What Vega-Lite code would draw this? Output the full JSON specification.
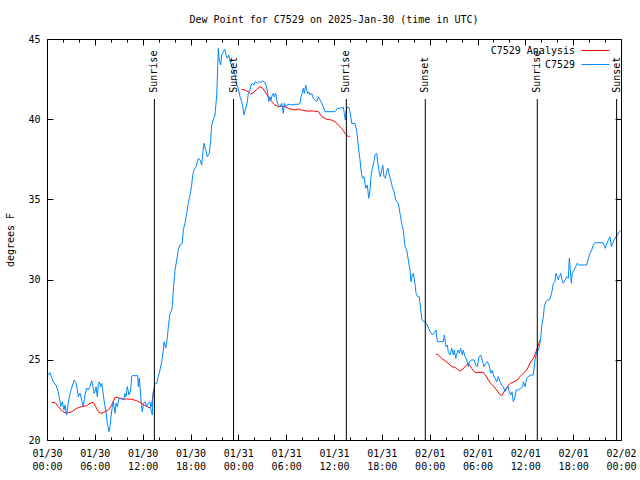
{
  "$schema": "https://vega.github.io/schema/vega-lite/v6.json",
  "width": 574,
  "height": 401,
  "autosize": {"type": "none"},
  "padding": {"left": 47, "top": 39, "right": 19, "bottom": 40},
  "background": "white",
  "title": {"text": "Dew Point for C7529 on 2025-Jan-30 (time in UTC)", "font": "DejaVu Sans Mono", "fontSize": 10, "fontWeight": "normal", "color": "black", "anchor": "middle", "frame": "group", "offset": 9},
  "config": {
    "view": {"stroke": "black", "strokeWidth": 1},
    "font": "DejaVu Sans Mono",
    "axis": {"grid": false, "domain": false, "labelFont": "DejaVu Sans Mono", "labelFontSize": 10, "labelColor": "black", "tickColor": "black", "tickWidth": 1, "titleFont": "DejaVu Sans Mono", "titleFontSize": 10, "titleFontWeight": "normal", "titleColor": "black"}
  },
  "datasets": {
    "dew": [
      {"hour":0.59,"dewpoint":22.35,"series":"C7529 Analysis","seg":"a1"},
      {"hour":1.00,"dewpoint":22.33,"series":"C7529 Analysis","seg":"a1"},
      {"hour":1.42,"dewpoint":22.08,"series":"C7529 Analysis","seg":"a1"},
      {"hour":1.84,"dewpoint":21.83,"series":"C7529 Analysis","seg":"a1"},
      {"hour":2.26,"dewpoint":21.70,"series":"C7529 Analysis","seg":"a1"},
      {"hour":2.67,"dewpoint":21.70,"series":"C7529 Analysis","seg":"a1"},
      {"hour":3.10,"dewpoint":21.76,"series":"C7529 Analysis","seg":"a1"},
      {"hour":3.73,"dewpoint":21.98,"series":"C7529 Analysis","seg":"a1"},
      {"hour":4.35,"dewpoint":22.08,"series":"C7529 Analysis","seg":"a1"},
      {"hour":4.98,"dewpoint":22.14,"series":"C7529 Analysis","seg":"a1"},
      {"hour":5.39,"dewpoint":22.29,"series":"C7529 Analysis","seg":"a1"},
      {"hour":5.81,"dewpoint":22.35,"series":"C7529 Analysis","seg":"a1"},
      {"hour":6.11,"dewpoint":22.08,"series":"C7529 Analysis","seg":"a1"},
      {"hour":6.44,"dewpoint":21.76,"series":"C7529 Analysis","seg":"a1"},
      {"hour":6.77,"dewpoint":21.66,"series":"C7529 Analysis","seg":"a1"},
      {"hour":7.28,"dewpoint":21.76,"series":"C7529 Analysis","seg":"a1"},
      {"hour":7.69,"dewpoint":21.87,"series":"C7529 Analysis","seg":"a1"},
      {"hour":8.12,"dewpoint":22.18,"series":"C7529 Analysis","seg":"a1"},
      {"hour":8.53,"dewpoint":22.66,"series":"C7529 Analysis","seg":"a1"},
      {"hour":8.94,"dewpoint":22.66,"series":"C7529 Analysis","seg":"a1"},
      {"hour":9.37,"dewpoint":22.54,"series":"C7529 Analysis","seg":"a1"},
      {"hour":10.00,"dewpoint":22.56,"series":"C7529 Analysis","seg":"a1"},
      {"hour":10.62,"dewpoint":22.54,"series":"C7529 Analysis","seg":"a1"},
      {"hour":11.25,"dewpoint":22.45,"series":"C7529 Analysis","seg":"a1"},
      {"hour":11.88,"dewpoint":22.29,"series":"C7529 Analysis","seg":"a1"},
      {"hour":12.51,"dewpoint":22.08,"series":"C7529 Analysis","seg":"a1"},
      {"hour":12.92,"dewpoint":22.01,"series":"C7529 Analysis","seg":"a1"},
      {"hour":13.13,"dewpoint":22.18,"series":"C7529 Analysis","seg":"a1"},
      {"hour":13.33,"dewpoint":22.91,"series":"C7529 Analysis","seg":"a1"},
      {"hour":13.46,"dewpoint":23.12,"series":"C7529 Analysis","seg":"a1"},
      {"hour":24.42,"dewpoint":41.86,"series":"C7529 Analysis","seg":"a2"},
      {"hour":24.84,"dewpoint":41.82,"series":"C7529 Analysis","seg":"a2"},
      {"hour":25.25,"dewpoint":41.71,"series":"C7529 Analysis","seg":"a2"},
      {"hour":25.55,"dewpoint":41.57,"series":"C7529 Analysis","seg":"a2"},
      {"hour":25.88,"dewpoint":41.65,"series":"C7529 Analysis","seg":"a2"},
      {"hour":26.30,"dewpoint":41.86,"series":"C7529 Analysis","seg":"a2"},
      {"hour":26.72,"dewpoint":42.03,"series":"C7529 Analysis","seg":"a2"},
      {"hour":27.06,"dewpoint":41.93,"series":"C7529 Analysis","seg":"a2"},
      {"hour":27.35,"dewpoint":41.71,"series":"C7529 Analysis","seg":"a2"},
      {"hour":27.76,"dewpoint":41.40,"series":"C7529 Analysis","seg":"a2"},
      {"hour":28.19,"dewpoint":41.09,"series":"C7529 Analysis","seg":"a2"},
      {"hour":28.60,"dewpoint":40.89,"series":"C7529 Analysis","seg":"a2"},
      {"hour":29.01,"dewpoint":40.78,"series":"C7529 Analysis","seg":"a2"},
      {"hour":29.44,"dewpoint":40.82,"series":"C7529 Analysis","seg":"a2"},
      {"hour":29.85,"dewpoint":40.78,"series":"C7529 Analysis","seg":"a2"},
      {"hour":30.27,"dewpoint":40.68,"series":"C7529 Analysis","seg":"a2"},
      {"hour":30.70,"dewpoint":40.62,"series":"C7529 Analysis","seg":"a2"},
      {"hour":31.11,"dewpoint":40.57,"series":"C7529 Analysis","seg":"a2"},
      {"hour":31.52,"dewpoint":40.64,"series":"C7529 Analysis","seg":"a2"},
      {"hour":31.95,"dewpoint":40.57,"series":"C7529 Analysis","seg":"a2"},
      {"hour":32.58,"dewpoint":40.51,"series":"C7529 Analysis","seg":"a2"},
      {"hour":33.40,"dewpoint":40.51,"series":"C7529 Analysis","seg":"a2"},
      {"hour":34.03,"dewpoint":40.47,"series":"C7529 Analysis","seg":"a2"},
      {"hour":34.46,"dewpoint":40.16,"series":"C7529 Analysis","seg":"a2"},
      {"hour":35.09,"dewpoint":39.99,"series":"C7529 Analysis","seg":"a2"},
      {"hour":35.71,"dewpoint":39.95,"series":"C7529 Analysis","seg":"a2"},
      {"hour":36.13,"dewpoint":39.84,"series":"C7529 Analysis","seg":"a2"},
      {"hour":36.54,"dewpoint":39.64,"series":"C7529 Analysis","seg":"a2"},
      {"hour":36.97,"dewpoint":39.43,"series":"C7529 Analysis","seg":"a2"},
      {"hour":37.38,"dewpoint":39.12,"series":"C7529 Analysis","seg":"a2"},
      {"hour":37.79,"dewpoint":38.91,"series":"C7529 Analysis","seg":"a2"},
      {"hour":38.01,"dewpoint":38.95,"series":"C7529 Analysis","seg":"a2"},
      {"hour":48.76,"dewpoint":25.36,"series":"C7529 Analysis","seg":"a3"},
      {"hour":49.08,"dewpoint":25.30,"series":"C7529 Analysis","seg":"a3"},
      {"hour":49.51,"dewpoint":25.09,"series":"C7529 Analysis","seg":"a3"},
      {"hour":49.92,"dewpoint":24.94,"series":"C7529 Analysis","seg":"a3"},
      {"hour":50.34,"dewpoint":24.78,"series":"C7529 Analysis","seg":"a3"},
      {"hour":50.77,"dewpoint":24.57,"series":"C7529 Analysis","seg":"a3"},
      {"hour":51.18,"dewpoint":24.53,"series":"C7529 Analysis","seg":"a3"},
      {"hour":51.47,"dewpoint":24.41,"series":"C7529 Analysis","seg":"a3"},
      {"hour":51.81,"dewpoint":24.30,"series":"C7529 Analysis","seg":"a3"},
      {"hour":52.15,"dewpoint":24.41,"series":"C7529 Analysis","seg":"a3"},
      {"hour":52.43,"dewpoint":24.57,"series":"C7529 Analysis","seg":"a3"},
      {"hour":52.85,"dewpoint":24.78,"series":"C7529 Analysis","seg":"a3"},
      {"hour":53.27,"dewpoint":24.47,"series":"C7529 Analysis","seg":"a3"},
      {"hour":53.69,"dewpoint":24.20,"series":"C7529 Analysis","seg":"a3"},
      {"hour":54.32,"dewpoint":24.22,"series":"C7529 Analysis","seg":"a3"},
      {"hour":54.73,"dewpoint":24.22,"series":"C7529 Analysis","seg":"a3"},
      {"hour":55.07,"dewpoint":23.99,"series":"C7529 Analysis","seg":"a3"},
      {"hour":55.36,"dewpoint":23.74,"series":"C7529 Analysis","seg":"a3"},
      {"hour":55.66,"dewpoint":23.53,"series":"C7529 Analysis","seg":"a3"},
      {"hour":55.98,"dewpoint":23.37,"series":"C7529 Analysis","seg":"a3"},
      {"hour":56.41,"dewpoint":23.12,"series":"C7529 Analysis","seg":"a3"},
      {"hour":56.74,"dewpoint":22.87,"series":"C7529 Analysis","seg":"a3"},
      {"hour":57.04,"dewpoint":22.76,"series":"C7529 Analysis","seg":"a3"},
      {"hour":57.33,"dewpoint":23.01,"series":"C7529 Analysis","seg":"a3"},
      {"hour":57.74,"dewpoint":23.32,"series":"C7529 Analysis","seg":"a3"},
      {"hour":58.08,"dewpoint":23.53,"series":"C7529 Analysis","seg":"a3"},
      {"hour":58.58,"dewpoint":23.63,"series":"C7529 Analysis","seg":"a3"},
      {"hour":58.99,"dewpoint":23.74,"series":"C7529 Analysis","seg":"a3"},
      {"hour":59.33,"dewpoint":23.95,"series":"C7529 Analysis","seg":"a3"},
      {"hour":59.75,"dewpoint":24.16,"series":"C7529 Analysis","seg":"a3"},
      {"hour":60.17,"dewpoint":24.36,"series":"C7529 Analysis","seg":"a3"},
      {"hour":60.59,"dewpoint":24.78,"series":"C7529 Analysis","seg":"a3"},
      {"hour":61.00,"dewpoint":25.09,"series":"C7529 Analysis","seg":"a3"},
      {"hour":61.34,"dewpoint":25.50,"series":"C7529 Analysis","seg":"a3"},
      {"hour":61.63,"dewpoint":25.92,"series":"C7529 Analysis","seg":"a3"},
      {"hour":61.84,"dewpoint":26.23,"series":"C7529 Analysis","seg":"a3"},
      {"hour":0.16,"dewpoint":24.05,"series":"C7529","seg":"obs"},
      {"hour":0.38,"dewpoint":24.20,"series":"C7529","seg":"obs"},
      {"hour":0.59,"dewpoint":23.87,"series":"C7529","seg":"obs"},
      {"hour":0.88,"dewpoint":23.55,"series":"C7529","seg":"obs"},
      {"hour":1.13,"dewpoint":23.43,"series":"C7529","seg":"obs"},
      {"hour":1.34,"dewpoint":23.12,"series":"C7529","seg":"obs"},
      {"hour":1.54,"dewpoint":22.70,"series":"C7529","seg":"obs"},
      {"hour":1.72,"dewpoint":22.08,"series":"C7529","seg":"obs"},
      {"hour":1.92,"dewpoint":22.39,"series":"C7529","seg":"obs"},
      {"hour":2.13,"dewpoint":21.87,"series":"C7529","seg":"obs"},
      {"hour":2.26,"dewpoint":22.18,"series":"C7529","seg":"obs"},
      {"hour":2.47,"dewpoint":21.56,"series":"C7529","seg":"obs"},
      {"hour":2.67,"dewpoint":22.31,"series":"C7529","seg":"obs"},
      {"hour":2.80,"dewpoint":22.70,"series":"C7529","seg":"obs"},
      {"hour":3.01,"dewpoint":23.12,"series":"C7529","seg":"obs"},
      {"hour":3.22,"dewpoint":23.43,"series":"C7529","seg":"obs"},
      {"hour":3.42,"dewpoint":23.74,"series":"C7529","seg":"obs"},
      {"hour":3.64,"dewpoint":23.55,"series":"C7529","seg":"obs"},
      {"hour":3.80,"dewpoint":23.12,"series":"C7529","seg":"obs"},
      {"hour":3.93,"dewpoint":22.70,"series":"C7529","seg":"obs"},
      {"hour":4.14,"dewpoint":22.93,"series":"C7529","seg":"obs"},
      {"hour":4.35,"dewpoint":22.49,"series":"C7529","seg":"obs"},
      {"hour":4.55,"dewpoint":22.08,"series":"C7529","seg":"obs"},
      {"hour":4.77,"dewpoint":22.81,"series":"C7529","seg":"obs"},
      {"hour":4.98,"dewpoint":23.24,"series":"C7529","seg":"obs"},
      {"hour":5.18,"dewpoint":23.12,"series":"C7529","seg":"obs"},
      {"hour":5.39,"dewpoint":23.32,"series":"C7529","seg":"obs"},
      {"hour":5.61,"dewpoint":23.70,"series":"C7529","seg":"obs"},
      {"hour":5.73,"dewpoint":23.43,"series":"C7529","seg":"obs"},
      {"hour":5.90,"dewpoint":22.91,"series":"C7529","seg":"obs"},
      {"hour":6.02,"dewpoint":23.01,"series":"C7529","seg":"obs"},
      {"hour":6.15,"dewpoint":23.32,"series":"C7529","seg":"obs"},
      {"hour":6.31,"dewpoint":22.70,"series":"C7529","seg":"obs"},
      {"hour":6.44,"dewpoint":23.53,"series":"C7529","seg":"obs"},
      {"hour":6.56,"dewpoint":23.63,"series":"C7529","seg":"obs"},
      {"hour":6.74,"dewpoint":23.32,"series":"C7529","seg":"obs"},
      {"hour":6.86,"dewpoint":23.53,"series":"C7529","seg":"obs"},
      {"hour":6.99,"dewpoint":23.12,"series":"C7529","seg":"obs"},
      {"hour":7.15,"dewpoint":22.49,"series":"C7529","seg":"obs"},
      {"hour":7.28,"dewpoint":22.08,"series":"C7529","seg":"obs"},
      {"hour":7.40,"dewpoint":21.76,"series":"C7529","seg":"obs"},
      {"hour":7.56,"dewpoint":21.04,"series":"C7529","seg":"obs"},
      {"hour":7.78,"dewpoint":20.52,"series":"C7529","seg":"obs"},
      {"hour":7.90,"dewpoint":20.83,"series":"C7529","seg":"obs"},
      {"hour":8.03,"dewpoint":21.45,"series":"C7529","seg":"obs"},
      {"hour":8.19,"dewpoint":22.08,"series":"C7529","seg":"obs"},
      {"hour":8.32,"dewpoint":22.39,"series":"C7529","seg":"obs"},
      {"hour":8.53,"dewpoint":21.66,"series":"C7529","seg":"obs"},
      {"hour":8.66,"dewpoint":22.29,"series":"C7529","seg":"obs"},
      {"hour":8.82,"dewpoint":22.08,"series":"C7529","seg":"obs"},
      {"hour":9.03,"dewpoint":22.60,"series":"C7529","seg":"obs"},
      {"hour":9.37,"dewpoint":22.60,"series":"C7529","seg":"obs"},
      {"hour":9.62,"dewpoint":22.49,"series":"C7529","seg":"obs"},
      {"hour":9.78,"dewpoint":22.91,"series":"C7529","seg":"obs"},
      {"hour":9.91,"dewpoint":22.70,"series":"C7529","seg":"obs"},
      {"hour":10.07,"dewpoint":23.32,"series":"C7529","seg":"obs"},
      {"hour":10.29,"dewpoint":22.81,"series":"C7529","seg":"obs"},
      {"hour":10.50,"dewpoint":23.12,"series":"C7529","seg":"obs"},
      {"hour":10.62,"dewpoint":23.95,"series":"C7529","seg":"obs"},
      {"hour":10.70,"dewpoint":24.01,"series":"C7529","seg":"obs"},
      {"hour":11.38,"dewpoint":24.01,"series":"C7529","seg":"obs"},
      {"hour":11.45,"dewpoint":23.32,"series":"C7529","seg":"obs"},
      {"hour":11.58,"dewpoint":23.85,"series":"C7529","seg":"obs"},
      {"hour":11.79,"dewpoint":22.49,"series":"C7529","seg":"obs"},
      {"hour":11.95,"dewpoint":21.76,"series":"C7529","seg":"obs"},
      {"hour":12.13,"dewpoint":22.29,"series":"C7529","seg":"obs"},
      {"hour":12.29,"dewpoint":22.39,"series":"C7529","seg":"obs"},
      {"hour":12.51,"dewpoint":22.08,"series":"C7529","seg":"obs"},
      {"hour":12.71,"dewpoint":22.29,"series":"C7529","seg":"obs"},
      {"hour":12.92,"dewpoint":22.39,"series":"C7529","seg":"obs"},
      {"hour":13.05,"dewpoint":21.87,"series":"C7529","seg":"obs"},
      {"hour":13.21,"dewpoint":21.56,"series":"C7529","seg":"obs"},
      {"hour":13.30,"dewpoint":22.91,"series":"C7529","seg":"obs"},
      {"hour":13.55,"dewpoint":23.53,"series":"C7529","seg":"obs"},
      {"hour":13.76,"dewpoint":23.53,"series":"C7529","seg":"obs"},
      {"hour":13.96,"dewpoint":23.95,"series":"C7529","seg":"obs"},
      {"hour":14.17,"dewpoint":24.36,"series":"C7529","seg":"obs"},
      {"hour":14.39,"dewpoint":24.88,"series":"C7529","seg":"obs"},
      {"hour":14.59,"dewpoint":25.61,"series":"C7529","seg":"obs"},
      {"hour":14.68,"dewpoint":26.13,"series":"C7529","seg":"obs"},
      {"hour":14.89,"dewpoint":25.72,"series":"C7529","seg":"obs"},
      {"hour":15.09,"dewpoint":26.34,"series":"C7529","seg":"obs"},
      {"hour":15.22,"dewpoint":27.06,"series":"C7529","seg":"obs"},
      {"hour":15.43,"dewpoint":27.90,"series":"C7529","seg":"obs"},
      {"hour":15.64,"dewpoint":28.10,"series":"C7529","seg":"obs"},
      {"hour":15.72,"dewpoint":28.31,"series":"C7529","seg":"obs"},
      {"hour":15.84,"dewpoint":29.35,"series":"C7529","seg":"obs"},
      {"hour":16.06,"dewpoint":30.60,"series":"C7529","seg":"obs"},
      {"hour":16.27,"dewpoint":31.22,"series":"C7529","seg":"obs"},
      {"hour":16.47,"dewpoint":31.85,"series":"C7529","seg":"obs"},
      {"hour":16.68,"dewpoint":32.16,"series":"C7529","seg":"obs"},
      {"hour":16.97,"dewpoint":32.26,"series":"C7529","seg":"obs"},
      {"hour":17.10,"dewpoint":33.09,"series":"C7529","seg":"obs"},
      {"hour":17.31,"dewpoint":33.51,"series":"C7529","seg":"obs"},
      {"hour":17.52,"dewpoint":34.13,"series":"C7529","seg":"obs"},
      {"hour":17.72,"dewpoint":34.76,"series":"C7529","seg":"obs"},
      {"hour":17.94,"dewpoint":35.27,"series":"C7529","seg":"obs"},
      {"hour":18.15,"dewpoint":35.90,"series":"C7529","seg":"obs"},
      {"hour":18.28,"dewpoint":36.52,"series":"C7529","seg":"obs"},
      {"hour":18.44,"dewpoint":36.83,"series":"C7529","seg":"obs"},
      {"hour":18.69,"dewpoint":37.04,"series":"C7529","seg":"obs"},
      {"hour":18.98,"dewpoint":37.56,"series":"C7529","seg":"obs"},
      {"hour":19.19,"dewpoint":37.46,"series":"C7529","seg":"obs"},
      {"hour":19.41,"dewpoint":37.14,"series":"C7529","seg":"obs"},
      {"hour":19.53,"dewpoint":37.87,"series":"C7529","seg":"obs"},
      {"hour":19.69,"dewpoint":38.50,"series":"C7529","seg":"obs"},
      {"hour":19.91,"dewpoint":38.08,"series":"C7529","seg":"obs"},
      {"hour":20.11,"dewpoint":37.66,"series":"C7529","seg":"obs"},
      {"hour":20.36,"dewpoint":37.87,"series":"C7529","seg":"obs"},
      {"hour":20.53,"dewpoint":38.70,"series":"C7529","seg":"obs"},
      {"hour":20.66,"dewpoint":39.64,"series":"C7529","seg":"obs"},
      {"hour":20.86,"dewpoint":39.95,"series":"C7529","seg":"obs"},
      {"hour":21.07,"dewpoint":40.26,"series":"C7529","seg":"obs"},
      {"hour":21.29,"dewpoint":41.51,"series":"C7529","seg":"obs"},
      {"hour":21.41,"dewpoint":43.27,"series":"C7529","seg":"obs"},
      {"hour":21.49,"dewpoint":44.42,"series":"C7529","seg":"obs"},
      {"hour":21.61,"dewpoint":43.69,"series":"C7529","seg":"obs"},
      {"hour":21.79,"dewpoint":43.38,"series":"C7529","seg":"obs"},
      {"hour":21.91,"dewpoint":44.00,"series":"C7529","seg":"obs"},
      {"hour":22.12,"dewpoint":44.21,"series":"C7529","seg":"obs"},
      {"hour":22.29,"dewpoint":44.36,"series":"C7529","seg":"obs"},
      {"hour":22.45,"dewpoint":44.00,"series":"C7529","seg":"obs"},
      {"hour":22.62,"dewpoint":43.80,"series":"C7529","seg":"obs"},
      {"hour":22.79,"dewpoint":44.00,"series":"C7529","seg":"obs"},
      {"hour":22.96,"dewpoint":43.69,"series":"C7529","seg":"obs"},
      {"hour":23.17,"dewpoint":43.27,"series":"C7529","seg":"obs"},
      {"hour":23.37,"dewpoint":43.07,"series":"C7529","seg":"obs"},
      {"hour":23.58,"dewpoint":42.76,"series":"C7529","seg":"obs"},
      {"hour":23.80,"dewpoint":42.13,"series":"C7529","seg":"obs"},
      {"hour":24.00,"dewpoint":41.93,"series":"C7529","seg":"obs"},
      {"hour":24.21,"dewpoint":41.40,"series":"C7529","seg":"obs"},
      {"hour":24.42,"dewpoint":41.09,"series":"C7529","seg":"obs"},
      {"hour":24.55,"dewpoint":40.78,"series":"C7529","seg":"obs"},
      {"hour":24.71,"dewpoint":40.26,"series":"C7529","seg":"obs"},
      {"hour":24.93,"dewpoint":40.68,"series":"C7529","seg":"obs"},
      {"hour":25.13,"dewpoint":41.09,"series":"C7529","seg":"obs"},
      {"hour":25.25,"dewpoint":41.61,"series":"C7529","seg":"obs"},
      {"hour":25.46,"dewpoint":41.82,"series":"C7529","seg":"obs"},
      {"hour":25.59,"dewpoint":42.13,"series":"C7529","seg":"obs"},
      {"hour":25.80,"dewpoint":42.24,"series":"C7529","seg":"obs"},
      {"hour":25.97,"dewpoint":42.13,"series":"C7529","seg":"obs"},
      {"hour":26.13,"dewpoint":42.34,"series":"C7529","seg":"obs"},
      {"hour":26.38,"dewpoint":42.24,"series":"C7529","seg":"obs"},
      {"hour":26.59,"dewpoint":42.34,"series":"C7529","seg":"obs"},
      {"hour":26.81,"dewpoint":42.28,"series":"C7529","seg":"obs"},
      {"hour":27.06,"dewpoint":42.38,"series":"C7529","seg":"obs"},
      {"hour":27.26,"dewpoint":42.34,"series":"C7529","seg":"obs"},
      {"hour":27.47,"dewpoint":42.13,"series":"C7529","seg":"obs"},
      {"hour":27.63,"dewpoint":41.82,"series":"C7529","seg":"obs"},
      {"hour":27.81,"dewpoint":41.09,"series":"C7529","seg":"obs"},
      {"hour":27.97,"dewpoint":41.40,"series":"C7529","seg":"obs"},
      {"hour":28.10,"dewpoint":41.20,"series":"C7529","seg":"obs"},
      {"hour":28.26,"dewpoint":41.51,"series":"C7529","seg":"obs"},
      {"hour":28.39,"dewpoint":41.61,"series":"C7529","seg":"obs"},
      {"hour":28.51,"dewpoint":41.40,"series":"C7529","seg":"obs"},
      {"hour":28.69,"dewpoint":41.61,"series":"C7529","seg":"obs"},
      {"hour":28.81,"dewpoint":41.20,"series":"C7529","seg":"obs"},
      {"hour":29.01,"dewpoint":40.89,"series":"C7529","seg":"obs"},
      {"hour":29.23,"dewpoint":40.78,"series":"C7529","seg":"obs"},
      {"hour":29.44,"dewpoint":40.99,"series":"C7529","seg":"obs"},
      {"hour":29.64,"dewpoint":40.37,"series":"C7529","seg":"obs"},
      {"hour":29.77,"dewpoint":40.99,"series":"C7529","seg":"obs"},
      {"hour":29.94,"dewpoint":40.78,"series":"C7529","seg":"obs"},
      {"hour":30.14,"dewpoint":40.89,"series":"C7529","seg":"obs"},
      {"hour":30.39,"dewpoint":40.93,"series":"C7529","seg":"obs"},
      {"hour":30.70,"dewpoint":40.89,"series":"C7529","seg":"obs"},
      {"hour":31.11,"dewpoint":40.93,"series":"C7529","seg":"obs"},
      {"hour":31.52,"dewpoint":40.93,"series":"C7529","seg":"obs"},
      {"hour":31.74,"dewpoint":40.99,"series":"C7529","seg":"obs"},
      {"hour":31.86,"dewpoint":41.40,"series":"C7529","seg":"obs"},
      {"hour":32.02,"dewpoint":41.61,"series":"C7529","seg":"obs"},
      {"hour":32.15,"dewpoint":41.93,"series":"C7529","seg":"obs"},
      {"hour":32.28,"dewpoint":41.61,"series":"C7529","seg":"obs"},
      {"hour":32.45,"dewpoint":42.13,"series":"C7529","seg":"obs"},
      {"hour":32.58,"dewpoint":41.82,"series":"C7529","seg":"obs"},
      {"hour":32.70,"dewpoint":41.61,"series":"C7529","seg":"obs"},
      {"hour":32.87,"dewpoint":41.71,"series":"C7529","seg":"obs"},
      {"hour":32.99,"dewpoint":41.51,"series":"C7529","seg":"obs"},
      {"hour":33.20,"dewpoint":41.61,"series":"C7529","seg":"obs"},
      {"hour":33.40,"dewpoint":41.30,"series":"C7529","seg":"obs"},
      {"hour":33.62,"dewpoint":41.20,"series":"C7529","seg":"obs"},
      {"hour":33.83,"dewpoint":41.09,"series":"C7529","seg":"obs"},
      {"hour":34.03,"dewpoint":41.40,"series":"C7529","seg":"obs"},
      {"hour":34.25,"dewpoint":41.20,"series":"C7529","seg":"obs"},
      {"hour":34.46,"dewpoint":40.99,"series":"C7529","seg":"obs"},
      {"hour":34.66,"dewpoint":40.78,"series":"C7529","seg":"obs"},
      {"hour":34.87,"dewpoint":40.47,"series":"C7529","seg":"obs"},
      {"hour":35.50,"dewpoint":40.47,"series":"C7529","seg":"obs"},
      {"hour":36.13,"dewpoint":40.47,"series":"C7529","seg":"obs"},
      {"hour":36.42,"dewpoint":40.68,"series":"C7529","seg":"obs"},
      {"hour":36.75,"dewpoint":40.68,"series":"C7529","seg":"obs"},
      {"hour":37.17,"dewpoint":40.74,"series":"C7529","seg":"obs"},
      {"hour":37.29,"dewpoint":40.37,"series":"C7529","seg":"obs"},
      {"hour":37.42,"dewpoint":39.95,"series":"C7529","seg":"obs"},
      {"hour":37.59,"dewpoint":40.74,"series":"C7529","seg":"obs"},
      {"hour":37.88,"dewpoint":40.74,"series":"C7529","seg":"obs"},
      {"hour":38.01,"dewpoint":40.47,"series":"C7529","seg":"obs"},
      {"hour":38.22,"dewpoint":39.74,"series":"C7529","seg":"obs"},
      {"hour":38.63,"dewpoint":39.74,"series":"C7529","seg":"obs"},
      {"hour":38.84,"dewpoint":39.33,"series":"C7529","seg":"obs"},
      {"hour":38.97,"dewpoint":38.70,"series":"C7529","seg":"obs"},
      {"hour":39.10,"dewpoint":38.08,"series":"C7529","seg":"obs"},
      {"hour":39.26,"dewpoint":37.46,"series":"C7529","seg":"obs"},
      {"hour":39.39,"dewpoint":36.83,"series":"C7529","seg":"obs"},
      {"hour":39.55,"dewpoint":36.32,"series":"C7529","seg":"obs"},
      {"hour":39.76,"dewpoint":36.42,"series":"C7529","seg":"obs"},
      {"hour":39.98,"dewpoint":35.69,"series":"C7529","seg":"obs"},
      {"hour":40.18,"dewpoint":35.90,"series":"C7529","seg":"obs"},
      {"hour":40.35,"dewpoint":35.07,"series":"C7529","seg":"obs"},
      {"hour":40.52,"dewpoint":35.59,"series":"C7529","seg":"obs"},
      {"hour":40.64,"dewpoint":36.42,"series":"C7529","seg":"obs"},
      {"hour":40.81,"dewpoint":36.94,"series":"C7529","seg":"obs"},
      {"hour":41.02,"dewpoint":37.35,"series":"C7529","seg":"obs"},
      {"hour":41.14,"dewpoint":37.77,"series":"C7529","seg":"obs"},
      {"hour":41.36,"dewpoint":37.87,"series":"C7529","seg":"obs"},
      {"hour":41.48,"dewpoint":37.35,"series":"C7529","seg":"obs"},
      {"hour":41.65,"dewpoint":36.73,"series":"C7529","seg":"obs"},
      {"hour":41.81,"dewpoint":36.42,"series":"C7529","seg":"obs"},
      {"hour":41.98,"dewpoint":36.83,"series":"C7529","seg":"obs"},
      {"hour":42.11,"dewpoint":37.14,"series":"C7529","seg":"obs"},
      {"hour":42.27,"dewpoint":36.42,"series":"C7529","seg":"obs"},
      {"hour":42.44,"dewpoint":36.32,"series":"C7529","seg":"obs"},
      {"hour":42.61,"dewpoint":36.73,"series":"C7529","seg":"obs"},
      {"hour":42.78,"dewpoint":36.94,"series":"C7529","seg":"obs"},
      {"hour":42.94,"dewpoint":36.52,"series":"C7529","seg":"obs"},
      {"hour":43.11,"dewpoint":36.21,"series":"C7529","seg":"obs"},
      {"hour":43.31,"dewpoint":35.79,"series":"C7529","seg":"obs"},
      {"hour":43.53,"dewpoint":35.48,"series":"C7529","seg":"obs"},
      {"hour":43.74,"dewpoint":34.96,"series":"C7529","seg":"obs"},
      {"hour":44.07,"dewpoint":34.76,"series":"C7529","seg":"obs"},
      {"hour":44.28,"dewpoint":34.13,"series":"C7529","seg":"obs"},
      {"hour":44.49,"dewpoint":33.51,"series":"C7529","seg":"obs"},
      {"hour":44.69,"dewpoint":33.09,"series":"C7529","seg":"obs"},
      {"hour":44.91,"dewpoint":32.05,"series":"C7529","seg":"obs"},
      {"hour":45.12,"dewpoint":31.85,"series":"C7529","seg":"obs"},
      {"hour":45.32,"dewpoint":31.22,"series":"C7529","seg":"obs"},
      {"hour":45.53,"dewpoint":30.60,"series":"C7529","seg":"obs"},
      {"hour":45.66,"dewpoint":29.87,"series":"C7529","seg":"obs"},
      {"hour":45.82,"dewpoint":30.29,"series":"C7529","seg":"obs"},
      {"hour":45.95,"dewpoint":30.39,"series":"C7529","seg":"obs"},
      {"hour":46.16,"dewpoint":29.77,"series":"C7529","seg":"obs"},
      {"hour":46.29,"dewpoint":29.15,"series":"C7529","seg":"obs"},
      {"hour":46.50,"dewpoint":28.93,"series":"C7529","seg":"obs"},
      {"hour":46.70,"dewpoint":28.93,"series":"C7529","seg":"obs"},
      {"hour":46.88,"dewpoint":28.10,"series":"C7529","seg":"obs"},
      {"hour":47.04,"dewpoint":27.48,"series":"C7529","seg":"obs"},
      {"hour":47.29,"dewpoint":27.38,"series":"C7529","seg":"obs"},
      {"hour":47.42,"dewpoint":27.38,"series":"C7529","seg":"obs"},
      {"hour":47.70,"dewpoint":27.17,"series":"C7529","seg":"obs"},
      {"hour":48.04,"dewpoint":26.75,"series":"C7529","seg":"obs"},
      {"hour":48.38,"dewpoint":26.55,"series":"C7529","seg":"obs"},
      {"hour":48.67,"dewpoint":26.75,"series":"C7529","seg":"obs"},
      {"hour":48.80,"dewpoint":26.86,"series":"C7529","seg":"obs"},
      {"hour":48.96,"dewpoint":26.13,"series":"C7529","seg":"obs"},
      {"hour":49.71,"dewpoint":26.13,"series":"C7529","seg":"obs"},
      {"hour":49.84,"dewpoint":26.55,"series":"C7529","seg":"obs"},
      {"hour":50.05,"dewpoint":25.82,"series":"C7529","seg":"obs"},
      {"hour":50.21,"dewpoint":25.92,"series":"C7529","seg":"obs"},
      {"hour":50.34,"dewpoint":25.50,"series":"C7529","seg":"obs"},
      {"hour":50.55,"dewpoint":25.30,"series":"C7529","seg":"obs"},
      {"hour":50.77,"dewpoint":25.72,"series":"C7529","seg":"obs"},
      {"hour":50.97,"dewpoint":25.30,"series":"C7529","seg":"obs"},
      {"hour":51.09,"dewpoint":25.61,"series":"C7529","seg":"obs"},
      {"hour":51.27,"dewpoint":25.09,"series":"C7529","seg":"obs"},
      {"hour":51.43,"dewpoint":25.41,"series":"C7529","seg":"obs"},
      {"hour":51.59,"dewpoint":25.61,"series":"C7529","seg":"obs"},
      {"hour":51.72,"dewpoint":25.41,"series":"C7529","seg":"obs"},
      {"hour":51.89,"dewpoint":25.72,"series":"C7529","seg":"obs"},
      {"hour":52.09,"dewpoint":25.30,"series":"C7529","seg":"obs"},
      {"hour":52.22,"dewpoint":25.61,"series":"C7529","seg":"obs"},
      {"hour":52.43,"dewpoint":25.19,"series":"C7529","seg":"obs"},
      {"hour":52.65,"dewpoint":24.99,"series":"C7529","seg":"obs"},
      {"hour":52.85,"dewpoint":24.57,"series":"C7529","seg":"obs"},
      {"hour":52.97,"dewpoint":24.88,"series":"C7529","seg":"obs"},
      {"hour":53.27,"dewpoint":24.99,"series":"C7529","seg":"obs"},
      {"hour":53.56,"dewpoint":24.99,"series":"C7529","seg":"obs"},
      {"hour":53.78,"dewpoint":24.67,"series":"C7529","seg":"obs"},
      {"hour":53.98,"dewpoint":24.57,"series":"C7529","seg":"obs"},
      {"hour":54.19,"dewpoint":25.19,"series":"C7529","seg":"obs"},
      {"hour":54.40,"dewpoint":25.30,"series":"C7529","seg":"obs"},
      {"hour":54.60,"dewpoint":24.99,"series":"C7529","seg":"obs"},
      {"hour":54.82,"dewpoint":24.57,"series":"C7529","seg":"obs"},
      {"hour":55.03,"dewpoint":24.78,"series":"C7529","seg":"obs"},
      {"hour":55.23,"dewpoint":24.88,"series":"C7529","seg":"obs"},
      {"hour":55.44,"dewpoint":24.67,"series":"C7529","seg":"obs"},
      {"hour":55.66,"dewpoint":24.16,"series":"C7529","seg":"obs"},
      {"hour":55.86,"dewpoint":24.36,"series":"C7529","seg":"obs"},
      {"hour":55.98,"dewpoint":24.05,"series":"C7529","seg":"obs"},
      {"hour":56.20,"dewpoint":23.85,"series":"C7529","seg":"obs"},
      {"hour":56.41,"dewpoint":23.63,"series":"C7529","seg":"obs"},
      {"hour":56.61,"dewpoint":23.95,"series":"C7529","seg":"obs"},
      {"hour":56.82,"dewpoint":23.63,"series":"C7529","seg":"obs"},
      {"hour":57.04,"dewpoint":23.43,"series":"C7529","seg":"obs"},
      {"hour":57.24,"dewpoint":23.32,"series":"C7529","seg":"obs"},
      {"hour":57.45,"dewpoint":23.01,"series":"C7529","seg":"obs"},
      {"hour":57.66,"dewpoint":23.22,"series":"C7529","seg":"obs"},
      {"hour":57.87,"dewpoint":23.32,"series":"C7529","seg":"obs"},
      {"hour":57.99,"dewpoint":23.01,"series":"C7529","seg":"obs"},
      {"hour":58.17,"dewpoint":22.81,"series":"C7529","seg":"obs"},
      {"hour":58.33,"dewpoint":23.01,"series":"C7529","seg":"obs"},
      {"hour":58.49,"dewpoint":22.39,"series":"C7529","seg":"obs"},
      {"hour":58.71,"dewpoint":22.70,"series":"C7529","seg":"obs"},
      {"hour":58.83,"dewpoint":23.12,"series":"C7529","seg":"obs"},
      {"hour":59.12,"dewpoint":23.12,"series":"C7529","seg":"obs"},
      {"hour":59.42,"dewpoint":23.22,"series":"C7529","seg":"obs"},
      {"hour":59.67,"dewpoint":23.32,"series":"C7529","seg":"obs"},
      {"hour":59.75,"dewpoint":23.63,"series":"C7529","seg":"obs"},
      {"hour":59.96,"dewpoint":23.32,"series":"C7529","seg":"obs"},
      {"hour":60.17,"dewpoint":23.85,"series":"C7529","seg":"obs"},
      {"hour":60.37,"dewpoint":23.95,"series":"C7529","seg":"obs"},
      {"hour":60.68,"dewpoint":24.05,"series":"C7529","seg":"obs"},
      {"hour":61.00,"dewpoint":24.05,"series":"C7529","seg":"obs"},
      {"hour":61.21,"dewpoint":24.99,"series":"C7529","seg":"obs"},
      {"hour":61.43,"dewpoint":25.50,"series":"C7529","seg":"obs"},
      {"hour":61.63,"dewpoint":25.61,"series":"C7529","seg":"obs"},
      {"hour":61.75,"dewpoint":25.82,"series":"C7529","seg":"obs"},
      {"hour":61.93,"dewpoint":26.34,"series":"C7529","seg":"obs"},
      {"hour":62.05,"dewpoint":27.06,"series":"C7529","seg":"obs"},
      {"hour":62.26,"dewpoint":27.69,"series":"C7529","seg":"obs"},
      {"hour":62.38,"dewpoint":28.31,"series":"C7529","seg":"obs"},
      {"hour":62.56,"dewpoint":28.62,"series":"C7529","seg":"obs"},
      {"hour":62.76,"dewpoint":28.73,"series":"C7529","seg":"obs"},
      {"hour":63.01,"dewpoint":28.73,"series":"C7529","seg":"obs"},
      {"hour":63.18,"dewpoint":28.93,"series":"C7529","seg":"obs"},
      {"hour":63.38,"dewpoint":29.35,"series":"C7529","seg":"obs"},
      {"hour":63.51,"dewpoint":29.77,"series":"C7529","seg":"obs"},
      {"hour":63.72,"dewpoint":29.87,"series":"C7529","seg":"obs"},
      {"hour":63.85,"dewpoint":30.39,"series":"C7529","seg":"obs"},
      {"hour":64.01,"dewpoint":30.18,"series":"C7529","seg":"obs"},
      {"hour":64.14,"dewpoint":29.98,"series":"C7529","seg":"obs"},
      {"hour":64.26,"dewpoint":30.18,"series":"C7529","seg":"obs"},
      {"hour":64.44,"dewpoint":30.39,"series":"C7529","seg":"obs"},
      {"hour":64.56,"dewpoint":30.08,"series":"C7529","seg":"obs"},
      {"hour":64.76,"dewpoint":29.77,"series":"C7529","seg":"obs"},
      {"hour":64.98,"dewpoint":29.98,"series":"C7529","seg":"obs"},
      {"hour":65.19,"dewpoint":30.18,"series":"C7529","seg":"obs"},
      {"hour":65.39,"dewpoint":30.08,"series":"C7529","seg":"obs"},
      {"hour":65.52,"dewpoint":31.33,"series":"C7529","seg":"obs"},
      {"hour":65.64,"dewpoint":30.60,"series":"C7529","seg":"obs"},
      {"hour":65.77,"dewpoint":29.77,"series":"C7529","seg":"obs"},
      {"hour":65.89,"dewpoint":30.39,"series":"C7529","seg":"obs"},
      {"hour":66.11,"dewpoint":30.60,"series":"C7529","seg":"obs"},
      {"hour":66.32,"dewpoint":30.80,"series":"C7529","seg":"obs"},
      {"hour":66.52,"dewpoint":31.02,"series":"C7529","seg":"obs"},
      {"hour":66.77,"dewpoint":30.91,"series":"C7529","seg":"obs"},
      {"hour":67.70,"dewpoint":30.91,"series":"C7529","seg":"obs"},
      {"hour":67.90,"dewpoint":31.33,"series":"C7529","seg":"obs"},
      {"hour":68.11,"dewpoint":31.64,"series":"C7529","seg":"obs"},
      {"hour":68.33,"dewpoint":31.85,"series":"C7529","seg":"obs"},
      {"hour":68.53,"dewpoint":32.16,"series":"C7529","seg":"obs"},
      {"hour":68.74,"dewpoint":32.30,"series":"C7529","seg":"obs"},
      {"hour":69.71,"dewpoint":32.30,"series":"C7529","seg":"obs"},
      {"hour":69.87,"dewpoint":32.16,"series":"C7529","seg":"obs"},
      {"hour":70.03,"dewpoint":31.95,"series":"C7529","seg":"obs"},
      {"hour":70.21,"dewpoint":32.22,"series":"C7529","seg":"obs"},
      {"hour":70.41,"dewpoint":32.47,"series":"C7529","seg":"obs"},
      {"hour":70.62,"dewpoint":32.67,"series":"C7529","seg":"obs"},
      {"hour":70.79,"dewpoint":32.05,"series":"C7529","seg":"obs"},
      {"hour":70.96,"dewpoint":32.26,"series":"C7529","seg":"obs"},
      {"hour":71.12,"dewpoint":32.47,"series":"C7529","seg":"obs"},
      {"hour":71.37,"dewpoint":32.67,"series":"C7529","seg":"obs"},
      {"hour":71.54,"dewpoint":32.78,"series":"C7529","seg":"obs"},
      {"hour":71.79,"dewpoint":32.99,"series":"C7529","seg":"obs"},
      {"hour":71.96,"dewpoint":33.09,"series":"C7529","seg":"obs"}
    ],
    "sun": [
      {"hour": 13.47, "event": "Sunrise"},
      {"hour": 23.4, "event": "Sunset"},
      {"hour": 37.55, "event": "Sunrise"},
      {"hour": 47.45, "event": "Sunset"},
      {"hour": 61.5, "event": "Sunrise"},
      {"hour": 71.45, "event": "Sunset"}
    ]
  },
  "layer": [
    {
      "data": {"name": "dew"},
      "mark": {"type": "line", "strokeWidth": 1},
      "encoding": {
        "x": {"field": "hour", "type": "quantitative", "scale": {"domain": [0, 72], "nice": false, "zero": false},
          "axis": {"orient": "bottom", "values": [0, 6, 12, 18, 24, 30, 36, 42, 48, 54, 60, 66, 72], "ticks": false, "labelPadding": 8, "labelBaseline": "top", "labelLineHeight": 13, "labelFlush": false, "labelOverlap": false, "labelBound": false, "title": null,
            "labelExpr": "[datum.value < 24 ? '01/30' : datum.value < 48 ? '01/31' : datum.value < 72 ? '02/01' : '02/02', (datum.value % 24 < 10 ? '0' : '') + (datum.value % 24) + ':00']"}},
        "y": {"field": "dewpoint", "type": "quantitative", "scale": {"domain": [20, 45], "nice": false, "zero": false},
          "axis": {"orient": "left", "values": [20, 25, 30, 35, 40, 45], "ticks": false, "labelPadding": 7, "labelBaseline": "middle", "title": "degrees F", "titleX": -37, "titleY": 200.5, "titleAngle": 270, "titleAlign": "center", "titleBaseline": "middle"}},
        "color": {"field": "series", "type": "nominal", "scale": {"domain": ["C7529 Analysis", "C7529"], "range": ["#ff0000", "#0088ff"]},
          "legend": {"title": null, "orient": "none", "legendX": 542, "legendY": 5, "labelAlign": "right", "labelOffset": -27, "symbolType": "M-2.3333,0H2.3333", "symbolSize": 144, "symbolStrokeWidth": 1, "padding": 0, "labelFont": "DejaVu Sans Mono", "labelFontSize": 10, "labelColor": "black"}},
        "detail": {"field": "seg"}
      }
    },
    {
      "data": {"name": "sun"},
      "transform": [{"filter": "datum.event === 'Sunrise'"}],
      "mark": {"type": "rule", "color": "black", "strokeWidth": 1},
      "encoding": {
        "x": {"field": "hour", "type": "quantitative", "scale": {"domain": [0, 72], "nice": false, "zero": false},
          "axis": {"orient": "bottom", "values": [0, 6, 12, 18, 24, 30, 36, 42, 48, 54, 60, 66, 72], "tickSize": -6, "labels": false, "title": null}},
        "y": {"datum": 20, "type": "quantitative", "scale": {"domain": [20, 45], "nice": false, "zero": false},
          "axis": {"orient": "left", "values": [20, 25, 30, 35, 40, 45], "tickSize": -6, "labels": false, "title": null}},
        "y2": {"datum": 41.26}
      }
    },
    {
      "data": {"name": "sun"},
      "transform": [{"filter": "datum.event === 'Sunset'"}],
      "mark": {"type": "rule", "color": "black", "strokeWidth": 1},
      "encoding": {
        "x": {"field": "hour", "type": "quantitative", "scale": {"domain": [0, 72], "nice": false, "zero": false},
          "axis": {"orient": "bottom", "values": [2, 4, 8, 10, 14, 16, 20, 22, 26, 28, 32, 34, 38, 40, 44, 46, 50, 52, 56, 58, 62, 64, 68, 70], "tickSize": -3, "labels": false, "title": null}},
        "y": {"datum": 20, "type": "quantitative", "scale": {"domain": [20, 45], "nice": false, "zero": false},
          "axis": {"orient": "right", "values": [20, 25, 30, 35, 40, 45], "tickSize": -6, "labels": false, "title": null}},
        "y2": {"datum": 41.26}
      }
    },
    {
      "data": {"name": "sun"},
      "transform": [{"filter": "datum.event === 'Sunrise'"}],
      "mark": {"type": "text", "angle": 270, "align": "left", "baseline": "middle", "font": "DejaVu Sans Mono", "fontSize": 10, "color": "black"},
      "encoding": {
        "x": {"field": "hour", "type": "quantitative", "scale": {"domain": [0, 72], "nice": false, "zero": false},
          "axis": {"orient": "top", "values": [0, 6, 12, 18, 24, 30, 36, 42, 48, 54, 60, 66, 72], "tickSize": -6, "labels": false, "title": null}},
        "y": {"datum": 41.65, "type": "quantitative", "scale": {"domain": [20, 45], "nice": false, "zero": false}, "axis": null},
        "text": {"field": "event"}
      }
    },
    {
      "data": {"name": "sun"},
      "transform": [{"filter": "datum.event === 'Sunset'"}],
      "mark": {"type": "text", "angle": 270, "align": "left", "baseline": "middle", "font": "DejaVu Sans Mono", "fontSize": 10, "color": "black"},
      "encoding": {
        "x": {"field": "hour", "type": "quantitative", "scale": {"domain": [0, 72], "nice": false, "zero": false},
          "axis": {"orient": "top", "values": [2, 4, 8, 10, 14, 16, 20, 22, 26, 28, 32, 34, 38, 40, 44, 46, 50, 52, 56, 58, 62, 64, 68, 70], "tickSize": -3, "labels": false, "title": null}},
        "y": {"datum": 41.65, "type": "quantitative", "scale": {"domain": [20, 45], "nice": false, "zero": false}, "axis": null},
        "text": {"field": "event"}
      }
    }
  ],
  "resolve": {"axis": {"x": "independent", "y": "independent"}}
}
